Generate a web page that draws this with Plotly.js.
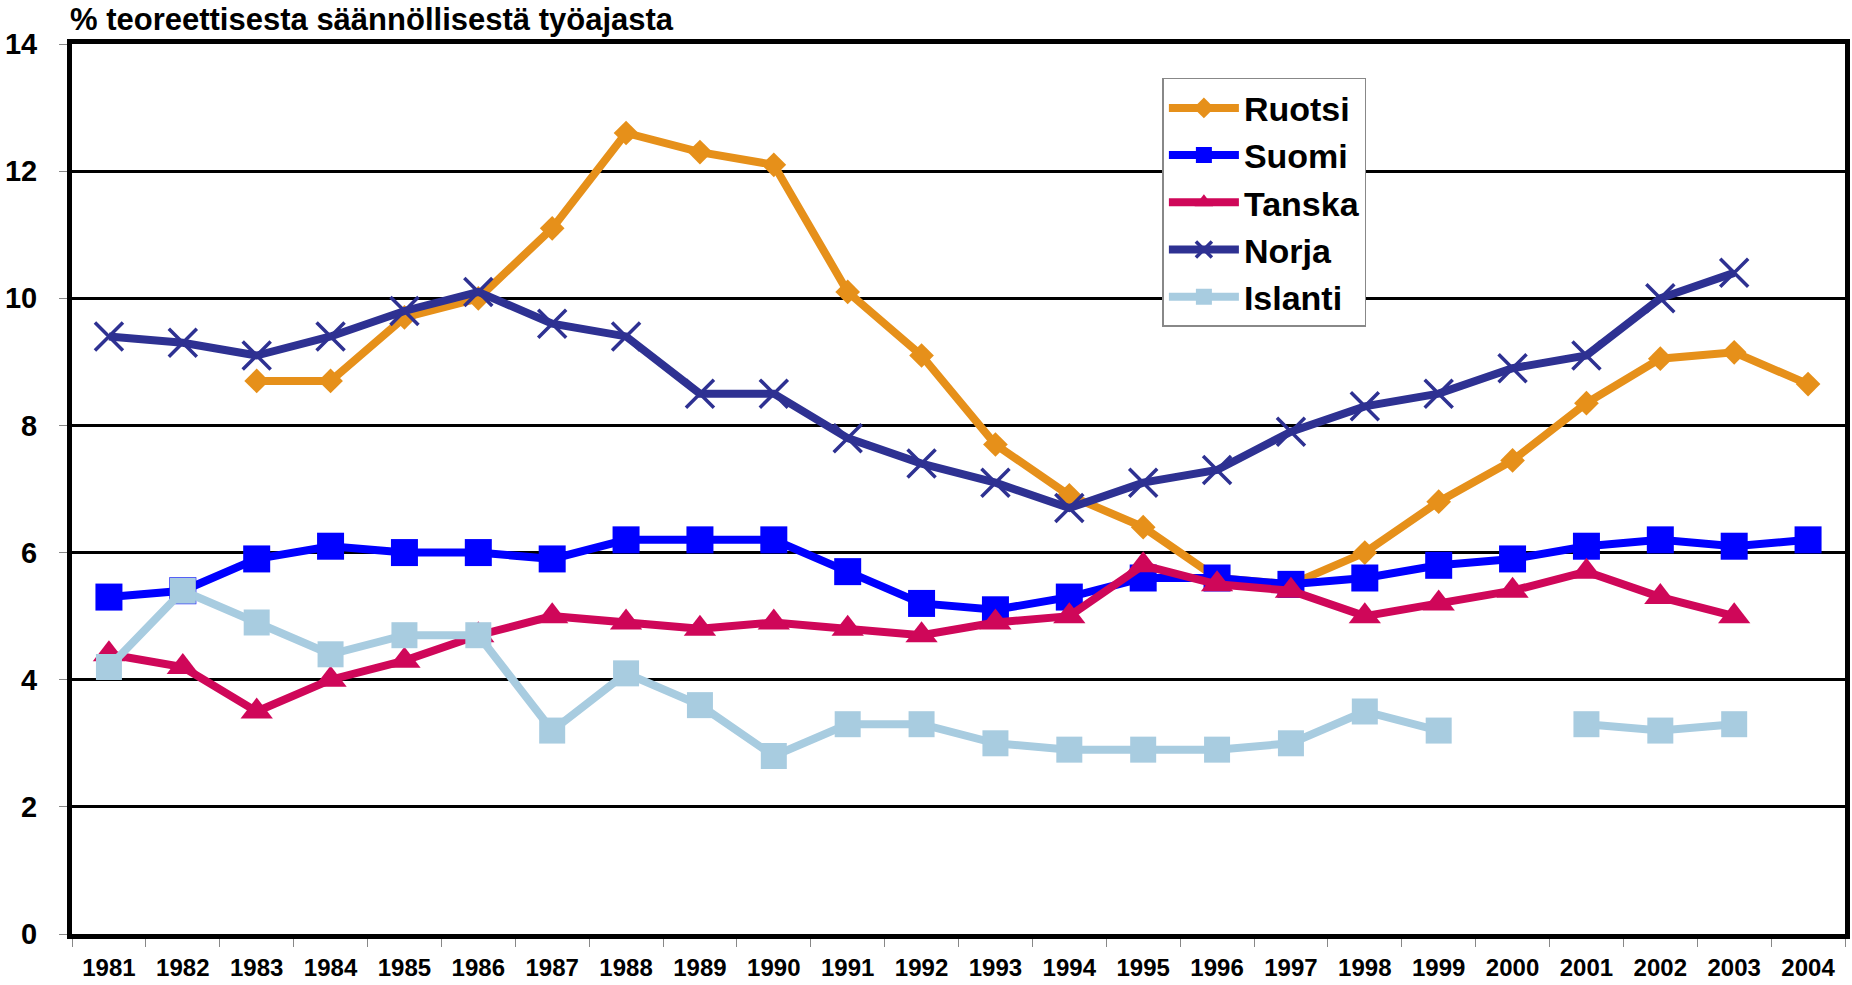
<!DOCTYPE html>
<html>
<head>
<meta charset="utf-8">
<script src="https://cdn.plot.ly/plotly-3.0.1.min.js"></script>
<style>
html,body{margin:0;padding:0;background:#fff;}
#chart{width:1852px;height:985px;}
</style>
</head>
<body>
<div id="chart"></div>
<script>
var years = ["1981","1982","1983","1984","1985","1986","1987","1988","1989","1990","1991","1992","1993","1994","1995","1996","1997","1998","1999","2000","2001","2002","2003","2004"];
var ruotsi  = [null, null, 8.7, 8.7, 9.7, 10.0, 11.1, 12.6, 12.3, 12.1, 10.1, 9.1, 7.7, 6.9, 6.4, 5.6, 5.5, 6.0, 6.8, 7.45, 8.35, 9.05, 9.15, 8.65];
var suomi   = [5.3, 5.4, 5.9, 6.1, 6.0, 6.0, 5.9, 6.2, 6.2, 6.2, 5.7, 5.2, 5.1, 5.3, 5.6, 5.6, 5.5, 5.6, 5.8, 5.9, 6.1, 6.2, 6.1, 6.2];
var tanska  = [4.4, 4.2, 3.5, 4.0, 4.3, 4.7, 5.0, 4.9, 4.8, 4.9, 4.8, 4.7, 4.9, 5.0, 5.8, 5.5, 5.4, 5.0, 5.2, 5.4, 5.7, 5.3, 5.0, null];
var norja   = [9.4, 9.3, 9.1, 9.4, 9.8, 10.1, 9.6, 9.4, 8.5, 8.5, 7.8, 7.4, 7.1, 6.7, 7.1, 7.3, 7.9, 8.3, 8.5, 8.9, 9.1, 10.0, 10.4, null];
var islanti = [4.2, 5.4, 4.9, 4.4, 4.7, 4.7, 3.2, 4.1, 3.6, 2.8, 3.3, 3.3, 3.0, 2.9, 2.9, 2.9, 3.0, 3.5, 3.2, null, 3.3, 3.2, 3.3, null];
var yTicks = [0, 2, 4, 6, 8, 10, 12, 14];
var titleText = "% teoreettisesta säännöllisestä työajasta";

var FONT = "Liberation Sans, Arial, sans-serif";

function tr(name, y, color, symbol, size, mline) {
  return {
    type: "scatter", mode: "lines+markers", name: name,
    x: years, y: y, connectgaps: false,
    line: {color: color, width: 8},
    marker: {color: color, symbol: symbol, size: size,
             line: mline || {width: 0}}
  };
}

var data = [
  tr("Ruotsi", ruotsi, "#E6901A", "diamond", 19),
  tr("Suomi", suomi, "#0000FF", "square", 27),
  tr("Tanska", tanska, "#CF0759", "triangle-up", 28),
  tr("Norja", norja, "#2E3192", "x-thin", 28, {width: 3.5, color: "#2E3192"}),
  tr("Islanti", islanti, "#A8CCE0", "square", 26)
];

var layout = {
  width: 1852, height: 985,
  paper_bgcolor: "#fff", plot_bgcolor: "#fff",
  margin: {l: 72, r: 6.5, t: 44, b: 50.5, pad: 0},
  showlegend: true,
  font: {family: FONT, color: "#000"},
  title: {
    text: titleText,
    font: {family: FONT, size: 31, weight: "bold", color: "#000"},
    x: 70/1852, xref: "container", xanchor: "left",
    y: 1 - 19/985, yref: "container", yanchor: "middle"
  },
  xaxis: {
    type: "category", categoryarray: years, categoryorder: "array",
    range: [-0.5, 23.5], autorange: false,
    showgrid: false, zeroline: false,
    showline: true, mirror: true, linecolor: "#000", linewidth: 5,
    ticks: "outside", tickson: "boundaries", ticklen: 8, tickwidth: 1, tickcolor: "#888",
    ticklabelstandoff: 8,
    tickfont: {family: FONT, size: 24, weight: "bold", color: "#000"},
    automargin: false, fixedrange: true
  },
  yaxis: {
    range: [0, 14], autorange: false,
    tickvals: yTicks, ticktext: yTicks.map(String),
    showgrid: true, gridcolor: "#000", gridwidth: 3,
    zeroline: false,
    showline: true, mirror: true, linecolor: "#000", linewidth: 5,
    ticks: "outside", ticklen: 8, tickwidth: 1, tickcolor: "#888",
    ticklabelstandoff: 16,
    tickfont: {family: FONT, size: 29, weight: "bold", color: "#000"},
    automargin: false, fixedrange: true
  },
  legend: {
    x: 0.615, y: 0.962, xanchor: "left", yanchor: "top",
    xref: "paper", yref: "paper",
    bgcolor: "#fff", bordercolor: "#888", borderwidth: 1.5,
    itemwidth: 70,
    font: {family: FONT, size: 34, weight: "bold", color: "#000"},
    tracegroupgap: 0
  }
};

Plotly.newPlot("chart", data, layout, {displayModeBar: false, staticPlot: true});
</script>
</body>
</html>
